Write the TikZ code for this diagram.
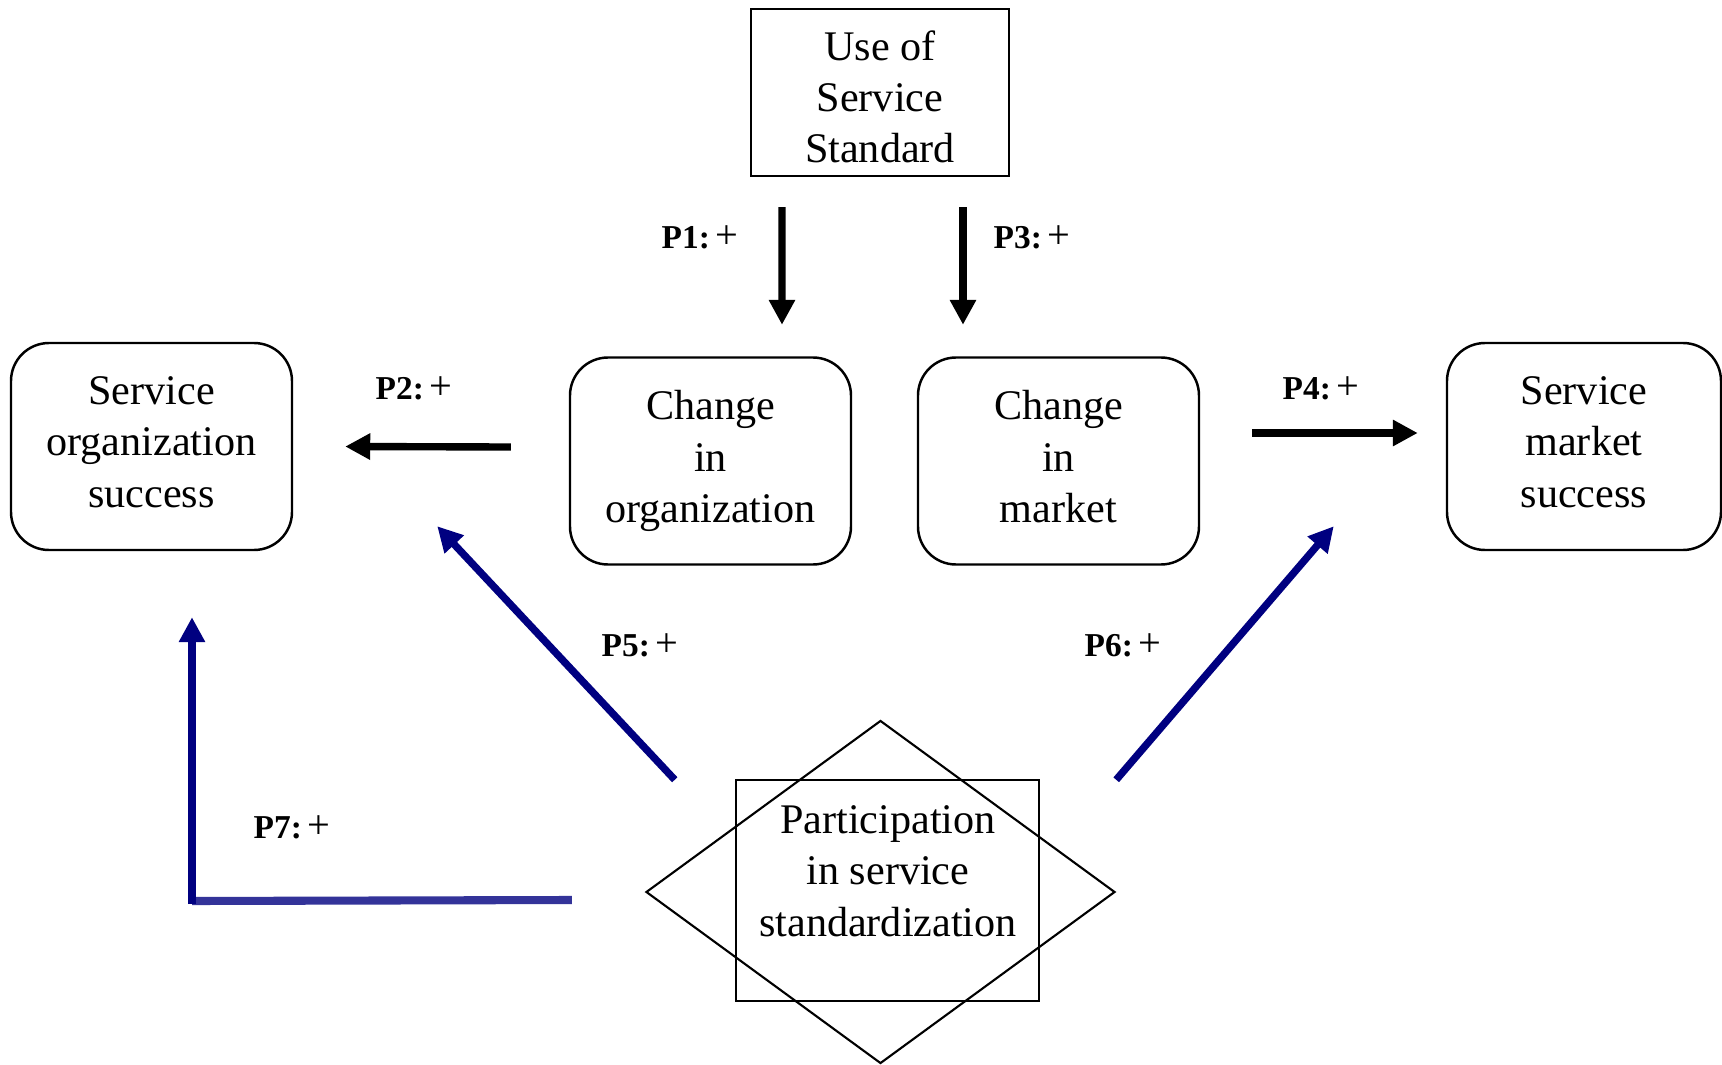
\documentclass[tikz,border=0pt]{standalone}
\usepackage{fontspec}
\setmainfont{Liberation Serif}
\usetikzlibrary{arrows.meta}
\usetikzlibrary{shapes.geometric}

\definecolor{navyline}{RGB}{0,0,128}
\definecolor{paleline}{RGB}{51,51,153}

% sign after each proposition, set a little larger
\newcommand{\plussign}{\,{\fontsize{11.5}{11}\selectfont +}}

\begin{document}
\begin{tikzpicture}[
    box/.style={rectangle, draw, line width=0.7pt, align=center, font=\fontsize{12}{14.6}\selectfont},
    roundbox/.style={box, rounded corners=0.38cm, minimum width=2.81cm, minimum height=2.07cm},
    arr/.style={line width=2.1pt, -{Triangle[length=0.25cm, width=0.25cm]}},
    blkarr/.style={arr, black},
    bluarr/.style={arr, navyline},
    plabel/.style={font=\fontsize{9.5}{11}\selectfont}
  ]
      \useasboundingbox (0,0) rectangle (17.22,-10.65);

      % boxes
      \node[box, minimum width=2.58cm, minimum height=1.67cm] (std) at (8.80,-0.925) {\rule{0pt}{10.9pt}Use of\\Service\\Standard};
      \node[roundbox] (orgsucc) at (1.515,-4.465) {Service\\organization\\success\vphantom{g}};
      \node[roundbox] (chorg) at (7.105,-4.61) {Change\\in\\organization};
      \node[roundbox] (chmkt) at (10.585,-4.61) {Change\\in\\market\vphantom{g}};
      \node[roundbox, minimum width=2.74cm] (mktsucc) at (15.84,-4.465) {Service\\market\\success\vphantom{g}};

      \node[diamond, draw, line width=0.6pt, inner sep=0pt, minimum width=4.69cm, minimum height=3.43cm] (dia) at (8.805,-8.92) {};
      \node[box, minimum width=3.03cm, minimum height=2.21cm] (part) at (8.875,-8.905) {};
      \node[align=center, font=\fontsize{12}{14.6}\selectfont] (parttxt) at (8.88,-8.71) {Participation\\in service\\standardization};

      % black arrows
      \draw[blkarr] ([xshift=-0.98cm, yshift=-0.30cm]std.south) -- ([xshift=0.715cm, yshift=0.315cm]chorg.north);
      \draw[blkarr] ([xshift=0.83cm, yshift=-0.30cm]std.south) -- ([xshift=-0.955cm, yshift=0.315cm]chmkt.north);
      \draw[blkarr] ([xshift=-0.58cm, yshift=0.14cm]chorg.west) -- ([xshift=0.52cm]orgsucc.east);
      \draw[blkarr] ([xshift=0.52cm, yshift=0.28cm]chmkt.east) -- ([xshift=-0.28cm, yshift=0.135cm]mktsucc.west);

      % blue arrows
      \draw[bluarr] ([xshift=-0.60cm, yshift=-0.01cm]part.north west) -- ([xshift=1.44cm, yshift=0.25cm]orgsucc.south east);
      \draw[bluarr] ([xshift=0.76cm, yshift=-0.01cm]part.north east) -- ([xshift=-1.12cm, yshift=0.25cm]mktsucc.south west);

      \coordinate (bend) at (1.92,-9.01);
      \draw[line width=2.3pt, paleline] ([xshift=-0.73cm, yshift=-0.08cm]dia.west) -- (bend);
      \draw[bluarr] ([yshift=-0.03cm]bend) -- ([xshift=0.405cm, yshift=-0.66cm]orgsucc.south);

      % labels
      \node[plabel] (l1) at (7.00,-2.37) {\textbf{P1:}\plussign};
      \node[plabel] (l3) at (10.32,-2.37) {\textbf{P3:}\plussign};
      \node[plabel] (l2) at (4.14,-3.88) {\textbf{P2:}\plussign};
      \node[plabel] (l4) at (13.21,-3.88) {\textbf{P4:}\plussign};
      \node[plabel] (l5) at (6.40,-6.45) {\textbf{P5:}\plussign};
      \node[plabel] (l6) at (11.23,-6.45) {\textbf{P6:}\plussign};
      \node[plabel] (l7) at (2.92,-8.27) {\textbf{P7:}\plussign};
\end{tikzpicture}
\end{document}
